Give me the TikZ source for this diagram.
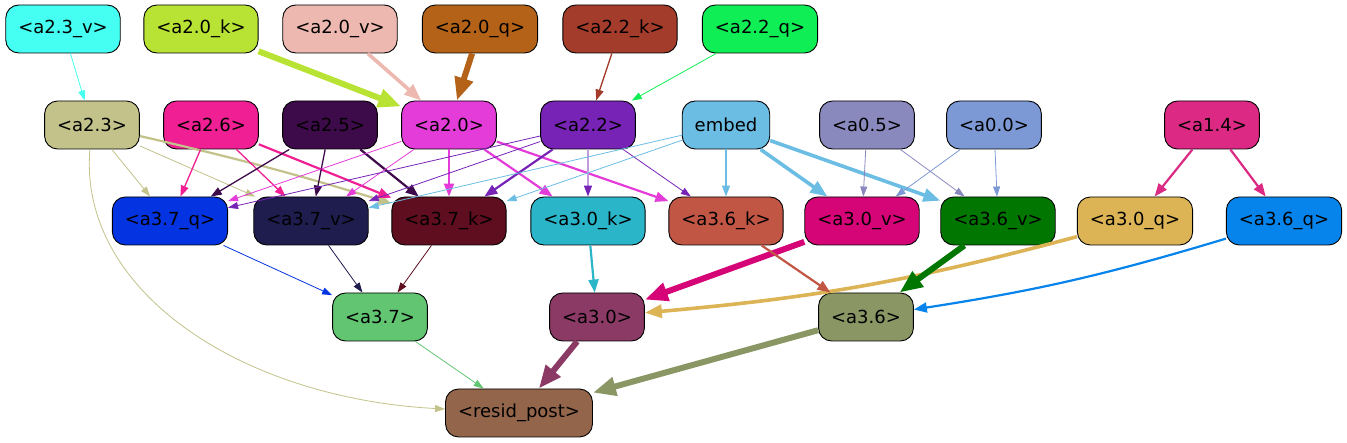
\documentclass[tikz,border=0pt]{standalone}
\usepackage{fontspec}
\setmainfont{DejaVu Sans}
\usepackage{tikz}
\usetikzlibrary{arrows.meta}

% Farben
\definecolor{cAzv}{HTML}{44FFF2}
\definecolor{cAzk}{HTML}{B9E334}
\definecolor{cAzvv}{HTML}{EDB8AF}
\definecolor{cAzq}{HTML}{B36218}
\definecolor{cAbk}{HTML}{A43C2B}
\definecolor{cAbq}{HTML}{10EE55}
\definecolor{cAc}{HTML}{C2C28A}
\definecolor{cAf}{HTML}{F01F94}
\definecolor{cAe}{HTML}{3D0A4A}
\definecolor{cAz}{HTML}{E43CD9}
\definecolor{cAb}{HTML}{7623B6}
\definecolor{cEmb}{HTML}{6BBDE3}
\definecolor{cOf}{HTML}{8A89BE}
\definecolor{cOz}{HTML}{7D99D5}
\definecolor{cOd}{HTML}{DC2A84}
\definecolor{cSq}{HTML}{0434E1}
\definecolor{cSv}{HTML}{1F1C4E}
\definecolor{cSk}{HTML}{5E0E1E}
\definecolor{cZk}{HTML}{2AB5C9}
\definecolor{cXk}{HTML}{C15645}
\definecolor{cZv}{HTML}{D50578}
\definecolor{cXv}{HTML}{017600}
\definecolor{cZq}{HTML}{DCB456}
\definecolor{cXq}{HTML}{0784EB}
\definecolor{cS}{HTML}{62C571}
\definecolor{cZ}{HTML}{8B3965}
\definecolor{cX}{HTML}{8A9664}
\definecolor{cRes}{HTML}{93654B}

\tikzset{every picture/.style={x=1pt, y=-1pt}}
\tikzstyle{box} = [draw=black, line width=0.9pt, rounded corners=13pt, minimum height=48pt, inner xsep=12.5pt, font=\fontsize{18}{21}\selectfont, text=black]
\tikzstyle{lwA} = [line width=0.8pt, -{Triangle[length=10pt,width=7pt]}]
\tikzstyle{lwB} = [line width=1.3pt, -{Triangle[length=11pt,width=8pt]}]
\tikzstyle{lwC} = [line width=2.2pt, -{Triangle[length=13pt,width=10pt]}]
\tikzstyle{lwD} = [line width=3.6pt, -{Triangle[length=17pt,width=13pt]}]
\tikzstyle{lwE} = [line width=6pt, -{Triangle[length=23pt,width=18pt]}]

\begin{document}
\begin{tikzpicture}
	\useasboundingbox (0,0) rectangle (1347,443);

	% Knoten
	\node[box, fill=cAzv]  (a23v) at (63,29)   {<a2.3\_v>};
	\node[box, fill=cAzk]  (a20k) at (201,29)  {<a2.0\_k>};
	\node[box, fill=cAzvv] (a20v) at (340,29)  {<a2.0\_v>};
	\node[box, fill=cAzq]  (a20q) at (480,29)  {<a2.0\_q>};
	\node[box, fill=cAbk]  (a22k) at (620,29)  {<a2.2\_k>};
	\node[box, fill=cAbq]  (a22q) at (760,29)  {<a2.2\_q>};

	\node[box, fill=cAc]  (a23) at (92,125)   {<a2.3>};
	\node[box, fill=cAf]  (a26) at (211,125)  {<a2.6>};
	\node[box, fill=cAe]  (a25) at (330,125)  {<a2.5>};
	\node[box, fill=cAz]  (a20) at (449,125)  {<a2.0>};
	\node[box, fill=cAb]  (a22) at (588,125)  {<a2.2>};
	\node[box, fill=cEmb] (emb) at (726,125)  {embed};
	\node[box, fill=cOf]  (a05) at (867,125)  {<a0.5>};
	\node[box, fill=cOz]  (a00) at (994,125)  {<a0.0>};
	\node[box, fill=cOd]  (a14) at (1212,125) {<a1.4>};

	\node[box, fill=cSq] (a37q) at (170,221)  {<a3.7\_q>};
	\node[box, fill=cSv] (a37v) at (311,221)  {<a3.7\_v>};
	\node[box, fill=cSk] (a37k) at (449,221)  {<a3.7\_k>};
	\node[box, fill=cZk] (a30k) at (588,221)  {<a3.0\_k>};
	\node[box, fill=cXk] (a36k) at (726,221)  {<a3.6\_k>};
	\node[box, fill=cZv] (a30v) at (862,221)  {<a3.0\_v>};
	\node[box, fill=cXv] (a36v) at (998,221)  {<a3.6\_v>};
	\node[box, fill=cZq] (a30q) at (1135,221) {<a3.0\_q>};
	\node[box, fill=cXq] (a36q) at (1284,221) {<a3.6\_q>};

	\node[box, fill=cS] (a37) at (380,317) {<a3.7>};
	\node[box, fill=cZ] (a30) at (597,317) {<a3.0>};
	\node[box, fill=cX] (a36) at (866,317) {<a3.6>};

	\node[box, fill=cRes] (res) at (519,413) {<resid\_post>};

	% Kanten, oberste Reihe
	\draw[lwA, cAzv]  (a23v) -- (a23);
	\draw[lwE, cAzk]  (a20k) -- (a20);
	\draw[lwD, cAzvv] (a20v) -- (a20);
	\draw[lwE, cAzq]  (a20q) -- (a20);
	\draw[lwB, cAbk]  (a22k) -- (a22);
	\draw[lwA, cAbq]  (a22q) -- (a22);

	% Kanten, zweite Reihe
	\draw[lwA, cAc] (a23) -- (a37q);
	\draw[lwA, cAc] (a23) -- (a37v);
	\draw[lwC, cAc] (a23) to[bend left=2] (a37k);
	\draw[lwA, cAc] (a23) .. controls (78,290) and (240,398) .. (res);
	\draw[lwB, cAf] (a26) -- (a37q);
	\draw[lwB, cAf] (a26) -- (a37v);
	\draw[lwC, cAf] (a26) -- (a37k);
	\draw[lwB, cAe] (a25) -- (a37q);
	\draw[lwB, cAe] (a25) -- (a37v);
	\draw[lwC, cAe] (a25) -- (a37k);
	\draw[lwA, cAz] (a20) -- (a37q);
	\draw[lwA, cAz] (a20) -- (a37v);
	\draw[lwC, cAz] (a20) -- (a37k);
	\draw[lwC, cAz] (a20) -- (a30k);
	\draw[lwC, cAz] (a20) -- (a36k);
	\draw[lwA, cAb] (a22) -- (a37q);
	\draw[lwA, cAb] (a22) -- (a37v);
	\draw[lwC, cAb] (a22) -- (a37k);
	\draw[line width=1.6pt, cAb!45, -{Triangle[length=11pt,width=8pt,color=cAb]}] (a22) -- (a30k);
	\draw[lwA, cAb] (a22) -- (a36k);
	\draw[lwA, cEmb] (emb) -- (a37v);
	\draw[lwA, cEmb] (emb) -- (a37k);
	\draw[lwB, cEmb] (emb) -- (a36k);
	\draw[lwD, cEmb] (emb) -- (a30v);
	\draw[lwD, cEmb] (emb) -- (a36v);
	\draw[lwA, cOf] (a05) -- (a30v);
	\draw[lwA, cOf] (a05) -- (a36v);
	\draw[lwA, cOz] (a00) -- (a30v);
	\draw[lwA, cOz] (a00) -- (a36v);
	\draw[lwC, cOd] (a14) -- (a30q);
	\draw[lwC, cOd] (a14) -- (a36q);

	% Kanten, dritte Reihe
	\draw[lwA, cSq] (a37q) -- (a37);
	\draw[lwA, cSv] (a37v) -- (a37);
	\draw[lwA, cSk] (a37k) -- (a37);
	\draw[lwC, cZk] (a30k) -- (a30);
	\draw[lwE, cZv] (a30v) -- (a30);
	\draw[lwD, cZq] (a30q) to[bend left=5] (a30);
	\draw[lwC, cXk] (a36k) -- (a36);
	\draw[lwE, cXv] (a36v) -- (a36);
	\draw[lwC, cXq] (a36q) to[bend left=4] (a36);

	% Kanten zum Ausgang
	\draw[lwA, cS] (a37) -- (res);
	\draw[lwE, cZ] (a30) -- (res);
	\draw[lwE, cX] (a36) -- (res);
\end{tikzpicture}
\end{document}
